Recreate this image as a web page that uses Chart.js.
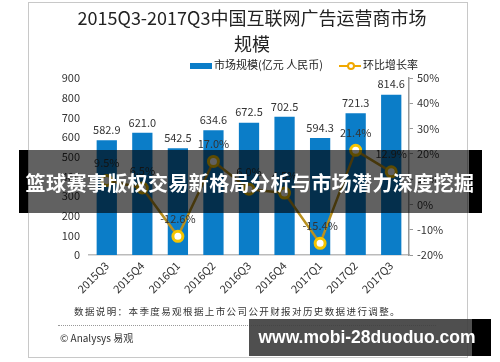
<!DOCTYPE html>
<html>
<head>
<meta charset="utf-8">
<script src="https://cdn.jsdelivr.net/npm/chart.js@4"></script>
<style>
  body { margin: 0; background: #fff; font-family: "Noto Sans CJK SC", sans-serif; }
  #wrap { position: relative; width: 500px; height: 362px; overflow: hidden; }
  #frame { position: absolute; left: 28px; top: 2px; width: 440px; height: 356px;
           border: 1.5px solid #c8c8c8; box-sizing: border-box; }
  canvas { position: absolute; left: 0; top: 0; }
  .abs { position: absolute; white-space: nowrap; }
  #title { left: 0; width: 504px; top: 4px; text-align: center; font-size: 18px; line-height: 26px; color: #222; }
  .legend { top: 56px; font-size: 11px; color: #222; line-height: 16px; }
  #note { left: 74px; top: 304px; font-size: 9.5px; color: #333; letter-spacing: 1.4px; }
  #dots { left: 58px; top: 325px; width: 378px; border-top: 1px dotted #999; }
  #copy { left: 60px; top: 330px; font-size: 10px; color: #333; }
  #band { left: 19px; top: 150px; width: 463px; height: 63px; background: rgba(0,0,0,0.62); }
  .blk { position: absolute; background: #000; }
  #bandText { left: 0; width: 500px; top: 150px; height: 63px; line-height: 66px; text-align: center;
              font-size: 20px; font-weight: bold; color: #fff; letter-spacing: 0.4px; }
  #wm { left: 249px; top: 319px; width: 242px; height: 37px; background: rgba(60,60,60,0.9); }
  #wmText { left: 249px; width: 236px; top: 319px; height: 37px; line-height: 37px; text-align: center;
            font-family: "Liberation Sans", sans-serif; font-size: 17.5px; font-weight: bold; color: #fff; }
</style>
</head>
<body>
<div id="wrap">
  <div id="frame"></div>
  <canvas id="chart" width="500" height="362"></canvas>
  <div id="title" class="abs">2015Q3-2017Q3中国互联网广告运营商市场<br>规模</div>
  <div class="abs legend" style="left:190px;"><span style="display:inline-block;width:22px;height:6px;background:#0b7dc8;vertical-align:middle;margin-right:2px;"></span>市场规模(亿元 人民币)</div>
  <div class="abs legend" style="left:339px;"><span style="display:inline-block;position:relative;width:22px;height:8px;vertical-align:middle;margin-right:2px;"><span style="position:absolute;left:0;top:3px;width:22px;height:2px;background:#f0a800;"></span><span style="position:absolute;left:8px;top:0;width:4px;height:4px;border:2px solid #f0a800;border-radius:50%;background:#fff;"></span></span>环比增长率</div>
  <div id="note" class="abs">数据说明：本季度易观根据上市公司公开财报对历史数据进行调整。</div>
  <div id="dots" class="abs"></div>
  <div id="copy" class="abs">© Analysys 易观</div>
  <div id="band" class="abs"></div>
  <div class="blk" style="left:19px;top:150px;width:9px;height:63px;"></div>
  <div class="blk" style="left:469px;top:150px;width:13px;height:63px;"></div>
  <div id="bandText" class="abs">篮球赛事版权交易新格局分析与市场潜力深度挖掘</div>
  <div id="wm" class="abs"></div>
  <div class="blk" style="left:472px;top:319px;width:19px;height:37px;"></div>
  <div id="wmText" class="abs">www.mobi-28duoduo.com</div>
</div>
<script>
const quarters = ['2015Q3', '2015Q4', '2016Q1', '2016Q2', '2016Q3', '2016Q4', '2017Q1', '2017Q2', '2017Q3'];
const marketSize = [582.9, 621.0, 542.5, 634.6, 672.5, 702.5, 594.3, 721.3, 814.6];
const growthRate = [9.5, 6.5, -12.6, 17.0, 6.0, 4.5, -15.4, 21.4, 12.9];

const font = { family: '"Noto Sans CJK SC", sans-serif', size: 11 };

// ---------- value labels ----------
const valueLabels = {
    id: 'valueLabels',
    afterDatasetsDraw(chart) {
        const c = chart.ctx;
        c.save();
        c.font = '11px "Noto Sans CJK SC", sans-serif';
        c.fillStyle = '#333';
        c.textAlign = 'center';
        c.textBaseline = 'bottom';
        // dataset 1 = barras, dataset 0 = línea
        chart.getDatasetMeta(1).data.forEach((bar, i) => {
            c.fillText(marketSize[i].toFixed(1), bar.x, bar.y - 5);
        });
        chart.getDatasetMeta(0).data.forEach((pt, i) => {
            c.fillText(growthRate[i].toFixed(1) + '%', pt.x, pt.y - 12);
        });
        c.restore();
    }
};

new Chart(document.getElementById('chart'), {
    data: {
        labels: quarters,
        datasets: [
            {
                type: 'line',
                label: '环比增长率',
                data: growthRate,
                yAxisID: 'y1',
                borderColor: '#b8901f',
                borderWidth: 2.5,
                pointRadius: 5,
                pointBackgroundColor: '#fff',
                pointBorderColor: '#f5c400',
                pointBorderWidth: 3,
                tension: 0,
                order: 1
            },
            {
                type: 'bar',
                label: '市场规模(亿元 人民币)',
                data: marketSize,
                yAxisID: 'y',
                backgroundColor: '#0b7dc8',
                barPercentage: 0.57,
                categoryPercentage: 1,
                order: 2
            }
        ]
    },
    options: {
        responsive: false,
        animation: false,
        layout: { padding: { left: 40, right: 50, top: 78, bottom: 57 } },
        plugins: { legend: { display: false }, tooltip: { enabled: false } },
        scales: {
            x: {
                grid: { display: false, drawTicks: false },
                border: { color: '#bbb', width: 1.5 },
                ticks: { color: '#333', font, minRotation: 45, maxRotation: 45, padding: 4 },
                afterFit: s => { s.height = 50; }
            },
            y: {
                position: 'left',
                min: 0, max: 900,
                grid: { display: false, drawTicks: false },
                border: { display: false },
                ticks: { stepSize: 100, color: '#333', font, padding: 9 },
                afterFit: s => { s.width = 49; }
            },
            y1: {
                position: 'right',
                min: -20, max: 50,
                grid: { drawOnChartArea: false, color: '#999', tickLength: 4 },
                border: { color: '#999', width: 1.5 },
                ticks: { stepSize: 10, color: '#333', font, padding: 4, callback: v => v + '%' },
                afterFit: s => { s.width = 41; }
            }
        }
    },
    plugins: [valueLabels]
});
</script>
</body>
</html>
